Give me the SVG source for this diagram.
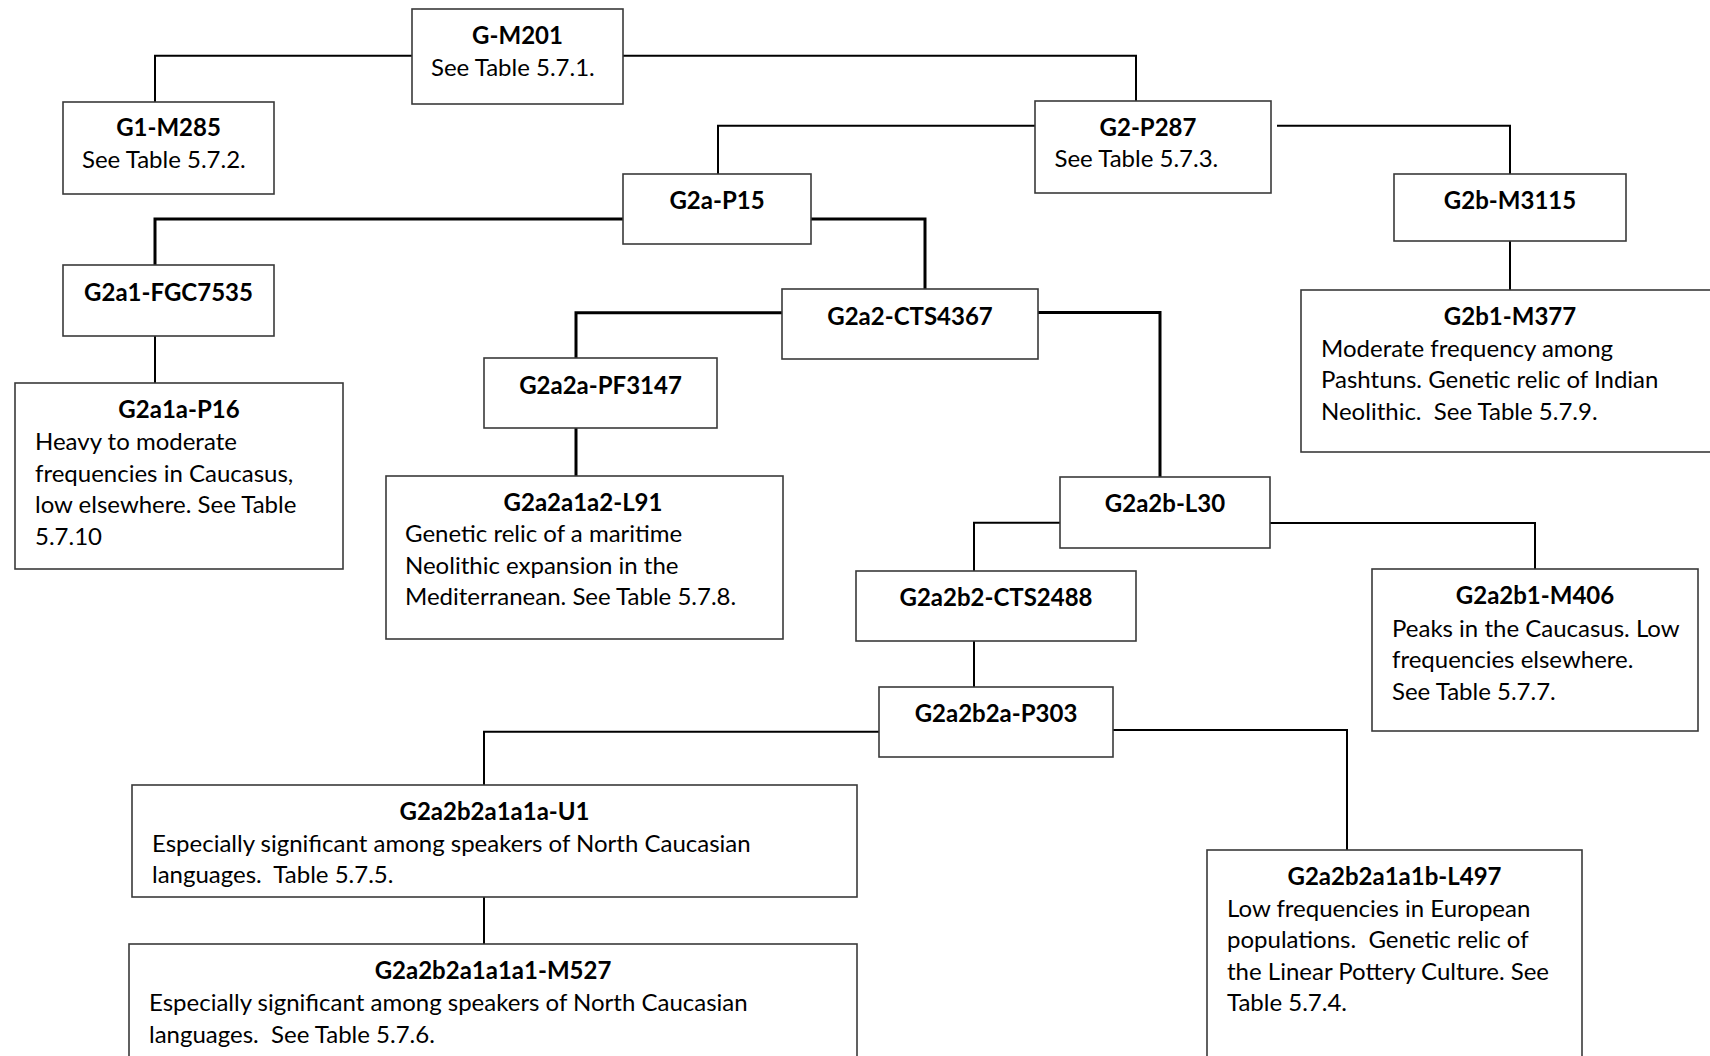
<svg xmlns="http://www.w3.org/2000/svg" width="1710" height="1056" viewBox="0 0 1710 1056">
  <style>
    .box { fill: #ffffff; stroke: #3a3a3a; stroke-width: 1.6; }
    .ln { fill: none; stroke: #000000; stroke-width: 2; }
    .ln.thick { stroke-width: 3; }
    text { font-family: Lato, "Open Sans", sans-serif; font-size: 24px; fill: #000000; }
    .t { font-weight: bold; text-anchor: middle; }
  </style>
  <rect width="1710" height="1056" fill="#ffffff"/>

  <!-- connectors -->
  <g id="connectors">
    <path class="ln" d="M412 55.7 H155 V102"/>
    <path class="ln" d="M623 55.7 H1136 V101"/>
    <path class="ln" d="M1035 125.7 H718 V174"/>
    <path class="ln" d="M1277 125.7 H1510 V174"/>
    <path class="ln thick" d="M623 219 H155 V265"/>
    <path class="ln thick" d="M811 219 H925 V289"/>
    <path class="ln" d="M1510 241 V290"/>
    <path class="ln" d="M155 336 V383"/>
    <path class="ln thick" d="M782 312.7 H576 V358"/>
    <path class="ln thick" d="M576 428 V476"/>
    <path class="ln thick" d="M1038 312.5 H1160 V477"/>
    <path class="ln" d="M1060 522.7 H974 V571"/>
    <path class="ln" d="M1270 523 H1535 V569"/>
    <path class="ln" d="M974 641 V687"/>
    <path class="ln" d="M879 731.7 H484 V785"/>
    <path class="ln" d="M1113 730 H1347 V850"/>
    <path class="ln" d="M484 897 V944"/>
  </g>

  <!-- haplogroup nodes -->
  <g id="G-M201">
    <rect class="box" x="412" y="9" width="211" height="95"/>
    <text class="t" x="517.5" y="44">G-M201</text>
    <text x="431" y="76">See Table 5.7.1.</text>
  </g>
  <g id="G1-M285">
    <rect class="box" x="63" y="102" width="211" height="92"/>
    <text class="t" x="168.5" y="136">G1-M285</text>
    <text x="82" y="168">See Table 5.7.2.</text>
  </g>
  <g id="G2-P287">
    <rect class="box" x="1035" y="101" width="236" height="92"/>
    <text class="t" x="1148" y="136">G2-P287</text>
    <text x="1054.5" y="167">See Table 5.7.3.</text>
  </g>
  <g id="G2a-P15">
    <rect class="box" x="623" y="174" width="188" height="70"/>
    <text class="t" x="717" y="209">G2a-P15</text>
  </g>
  <g id="G2b-M3115">
    <rect class="box" x="1394" y="174" width="232" height="67"/>
    <text class="t" x="1510" y="208.5">G2b-M3115</text>
  </g>
  <g id="G2a1-FGC7535">
    <rect class="box" x="63" y="265" width="211" height="71"/>
    <text class="t" x="168.5" y="301">G2a1-FGC7535</text>
  </g>
  <g id="G2a2-CTS4367">
    <rect class="box" x="782" y="289" width="256" height="70"/>
    <text class="t" x="910" y="325">G2a2-CTS4367</text>
  </g>
  <g id="G2b1-M377">
    <rect class="box" x="1301" y="290" width="420" height="162"/>
    <text class="t" x="1510" y="325">G2b1-M377</text>
    <text x="1321" y="356.5">Moderate frequency among</text>
    <text x="1321" y="388">Pashtuns. Genetic relic of Indian</text>
    <text x="1321" y="419.5" xml:space="preserve">Neolithic.  See Table 5.7.9.</text>
  </g>
  <g id="G2a1a-P16">
    <rect class="box" x="15" y="383" width="328" height="186"/>
    <text class="t" x="179" y="417.5">G2a1a-P16</text>
    <text x="35" y="450">Heavy to moderate</text>
    <text x="35" y="481.5">frequencies in Caucasus,</text>
    <text x="35" y="513">low elsewhere. See Table</text>
    <text x="35" y="544.5">5.7.10</text>
  </g>
  <g id="G2a2a-PF3147">
    <rect class="box" x="484" y="358" width="233" height="70"/>
    <text class="t" x="600.5" y="394">G2a2a-PF3147</text>
  </g>
  <g id="G2a2a1a2-L91">
    <rect class="box" x="386" y="476" width="397" height="163"/>
    <text class="t" x="583" y="510.5">G2a2a1a2-L91</text>
    <text x="405" y="542">Genetic relic of a maritime</text>
    <text x="405" y="573.5">Neolithic expansion in the</text>
    <text x="405" y="605">Mediterranean. See Table 5.7.8.</text>
  </g>
  <g id="G2a2b-L30">
    <rect class="box" x="1060" y="477" width="210" height="71"/>
    <text class="t" x="1165" y="511.5">G2a2b-L30</text>
  </g>
  <g id="G2a2b2-CTS2488">
    <rect class="box" x="856" y="571" width="280" height="70"/>
    <text class="t" x="996" y="606">G2a2b2-CTS2488</text>
  </g>
  <g id="G2a2b1-M406">
    <rect class="box" x="1372" y="569" width="326" height="162"/>
    <text class="t" x="1535" y="604">G2a2b1-M406</text>
    <text x="1392" y="636.5">Peaks in the Caucasus. Low</text>
    <text x="1392" y="668">frequencies elsewhere.</text>
    <text x="1392" y="699.5">See Table 5.7.7.</text>
  </g>
  <g id="G2a2b2a-P303">
    <rect class="box" x="879" y="687" width="234" height="70"/>
    <text class="t" x="996" y="721.5">G2a2b2a-P303</text>
  </g>
  <g id="G2a2b2a1a1a-U1">
    <rect class="box" x="132" y="785" width="725" height="112"/>
    <text class="t" x="494.5" y="820">G2a2b2a1a1a-U1</text>
    <text x="152" y="851.5">Especially significant among speakers of North Caucasian</text>
    <text x="152" y="883" xml:space="preserve">languages.  Table 5.7.5.</text>
  </g>
  <g id="G2a2b2a1a1a1-M527">
    <rect class="box" x="129" y="944" width="728" height="130"/>
    <text class="t" x="493" y="978.5">G2a2b2a1a1a1-M527</text>
    <text x="149" y="1011">Especially significant among speakers of North Caucasian</text>
    <text x="149" y="1042.5" xml:space="preserve">languages.  See Table 5.7.6.</text>
  </g>
  <g id="G2a2b2a1a1b-L497">
    <rect class="box" x="1207" y="850" width="375" height="220"/>
    <text class="t" x="1394.5" y="885">G2a2b2a1a1b-L497</text>
    <text x="1227" y="916.5">Low frequencies in European</text>
    <text x="1227" y="948" xml:space="preserve">populations.  Genetic relic of</text>
    <text x="1227" y="979.5">the Linear Pottery Culture. See</text>
    <text x="1227" y="1011">Table 5.7.4.</text>
  </g>
</svg>
